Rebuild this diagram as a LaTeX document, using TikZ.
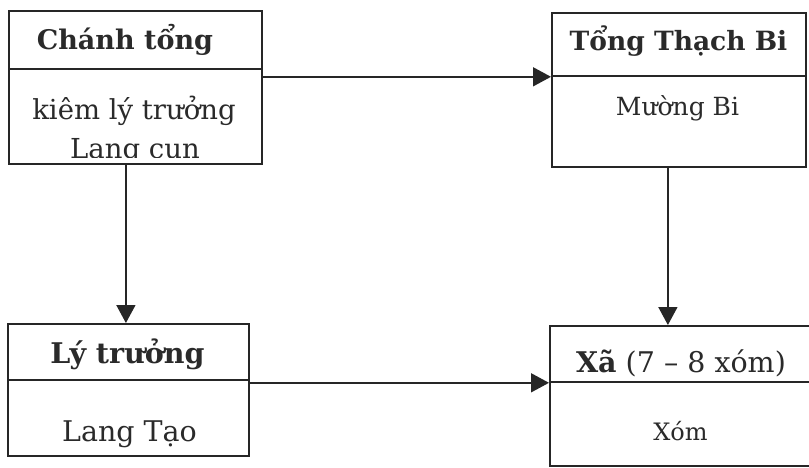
\documentclass[tikz,border=0pt]{standalone}
\usepackage{fontspec}
\setmainfont{DejaVu Serif}
\usetikzlibrary{arrows.meta}
\definecolor{ink}{HTML}{262626}
\definecolor{txt}{HTML}{2A2A2A}
\begin{document}
\begin{tikzpicture}[x=1pt,y=-1pt,
  cell/.style args={#1x#2}{draw=ink, line width=1.8pt, rectangle, inner sep=0pt,
    anchor=north west, minimum width=#1pt, minimum height=#2pt},
  arr/.style={draw=ink, line width=1.6pt, -{Triangle[length=18pt,width=19pt]}},
  head/.style={anchor=base, text=txt, font=\fontsize{#1}{#1}\selectfont\bfseries},
  plain/.style={anchor=base, text=txt, font=\fontsize{#1}{#1}\selectfont},
]
\useasboundingbox (0,0) rectangle (809,467);
\fill[white] (0,0) rectangle (809,467);
\clip (0,0) rectangle (809,467);

% boxes
\node[cell=253x58] (b1h) at (8,10) {};
\node[cell=253x95] (b1b) at (8,68) {};
\node[cell=254x63] (b2h) at (551,12) {};
\node[cell=254x91] (b2b) at (551,75) {};
\node[cell=241x56] (b3h) at (7,323) {};
\node[cell=241x76] (b3b) at (7,379) {};
\node[cell=266x56] (b4h) at (549,325) {};
\node[cell=266x84] (b4b) at (549,381) {};

% texts
\node[head=27] (t1) at (125,49) {Chánh tổng};
\node[plain=27.5] (t2) at (134,119) {kiêm lý trưởng};
\begin{scope}
  \clip (b1b.north west) rectangle ([yshift=7pt]b1b.south east);
  \node[plain=27.5] (t3) at (135,158) {Lang cun};
\end{scope}
\node[head=26.5] (t4) at (678.5,50) {Tổng Thạch Bi};
\node[plain=25] (t5) at (677.5,115) {Mường Bi};
\node[head=28.5] (t6) at (127.5,363) {Lý trưởng};
\node[plain=28.5] (t7) at (129.5,441) {Lang Tạo};
\node[plain=28.5] (t8) at (681,372) {{\bfseries Xã} (7 – 8 xóm)};
\node[plain=24] (t9) at (680.5,440) {Xóm};

% connectors
\draw[arr] ([xshift=-9.5pt]b1b.south) -- ([xshift=-2.5pt]b3h.north);
\draw[arr] ([xshift=-11pt]b2b.south) -- ([xshift=-15pt]b4h.north);
\draw[arr] (b2h.south west -| b1b.east) -- (b2h.south west);
\draw[arr] (b4h.south west -| b3b.east) -- (b4h.south west);
\end{tikzpicture}
\end{document}
